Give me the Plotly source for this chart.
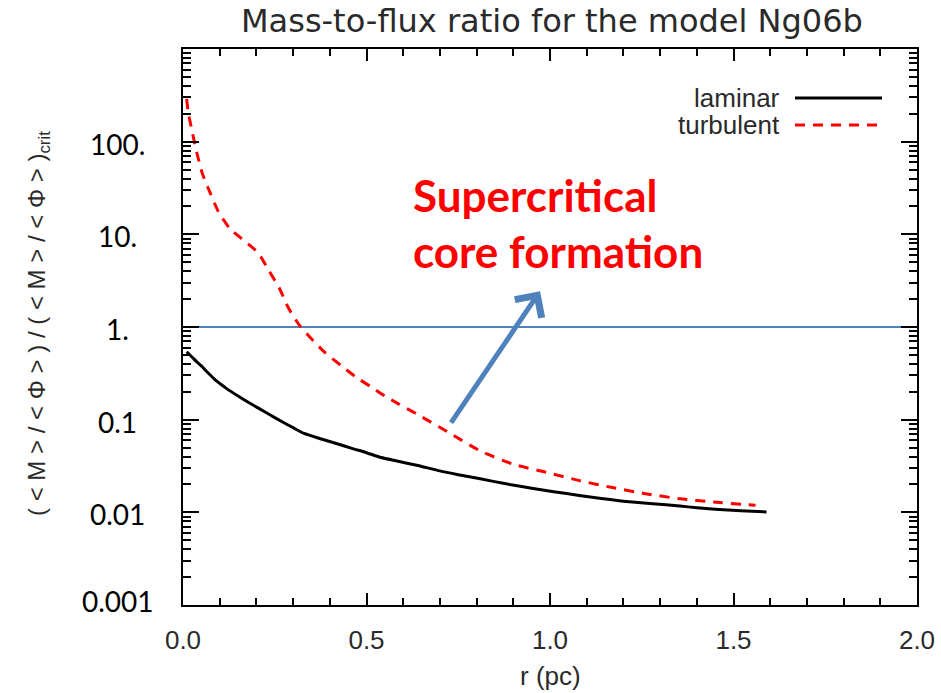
import math
import plotly.graph_objects as go

# Radius (pc) and normalised mass-to-flux ratio for the two runs of model Ng06b
r_laminar = [0.01, 0.03, 0.05, 0.07, 0.092, 0.12, 0.15, 0.18, 0.21, 0.24,
             0.27, 0.30, 0.33, 0.37, 0.42, 0.46, 0.50, 0.54, 0.58, 0.64,
             0.70, 0.75, 0.81, 0.88, 0.95, 1.01, 1.08, 1.14, 1.20, 1.28,
             1.354, 1.40, 1.45, 1.52, 1.59]
mu_laminar = [0.54, 0.45, 0.38, 0.315, 0.26, 0.215, 0.18, 0.152, 0.13, 0.111,
              0.095, 0.082, 0.071, 0.063, 0.055, 0.049, 0.044, 0.039, 0.036, 0.032,
              0.028, 0.0255, 0.023, 0.0203, 0.0182, 0.0167, 0.0152, 0.0141, 0.0132, 0.0124,
              0.0117, 0.0112, 0.0108, 0.0104, 0.0101]

r_turbulent = [0.01, 0.014, 0.024, 0.037, 0.053, 0.074, 0.096, 0.128, 0.169,
               0.205, 0.235, 0.262, 0.287, 0.319, 0.355, 0.387, 0.432, 0.473,
               0.514, 0.55, 0.587, 0.637, 0.723, 0.81, 0.90, 0.99, 1.08,
               1.17, 1.26, 1.354, 1.445, 1.56]
mu_turbulent = [290, 210, 134, 78, 45, 28, 17.7, 11.5, 8.4,
                6.3, 4.0, 2.65, 1.61, 1.02, 0.71, 0.53, 0.38, 0.285,
                0.224, 0.18, 0.148, 0.115, 0.073, 0.046, 0.033, 0.027, 0.022,
                0.0185, 0.0159, 0.014, 0.0129, 0.0119]

# Critical level and axis labelling
critical_r = [0.0, 2.0]
critical_mu = [1.0, 1.0]
y_tick_values = [0.001, 0.01, 0.1, 1, 10, 100]
y_tick_labels = ["0.001", "0.01", "0.1", "1.", "10.", "100."]
x_tick_values = [0.0, 0.5, 1.0, 1.5, 2.0]
x_tick_labels = ["0.0", "0.5", "1.0", "1.5", "2.0"]

THIN = "Liberation Sans, Arial, sans-serif"
INK = "#2a2a2a"
BLUE = "#4F81BD"
RED = "#ff0000"

fig = go.Figure()
fig.add_trace(go.Scatter(x=critical_r, y=critical_mu, mode="lines",
                         line=dict(color=BLUE, width=2), showlegend=False,
                         hoverinfo="skip"))
fig.add_trace(go.Scatter(x=r_laminar, y=mu_laminar, mode="lines", name="laminar",
                         line=dict(color="black", width=3, shape="spline", smoothing=0.6),
                         showlegend=False))
fig.add_trace(go.Scatter(x=r_turbulent, y=mu_turbulent, mode="lines", name="turbulent",
                         line=dict(color=RED, width=3, dash="10px,8px",
                                   shape="spline", smoothing=0.6),
                         showlegend=False))

axis_common = dict(showline=True, linecolor="black", linewidth=2, mirror="ticks",
                   ticks="inside", tickcolor="black", tickwidth=2,
                   showgrid=False, zeroline=False, automargin=False)

fig.update_xaxes(range=[0, 2.0], tickvals=x_tick_values, ticktext=x_tick_labels,
                 ticklen=12, ticklabelstandoff=11,
                 tickfont=dict(family=THIN, size=26, color=INK),
                 minor=dict(dtick=0.1, ticks="inside", ticklen=7,
                            tickcolor="black", tickwidth=2, showgrid=False),
                 **axis_common)
fig.update_yaxes(type="log", range=[-3, 3], dtick=1, ticklen=16,
                 showticklabels=False,
                 minor=dict(dtick="D1", ticks="inside", ticklen=8,
                            tickcolor="black", tickwidth=2, showgrid=False),
                 **axis_common)

# y tick labels, centred to the left of the axis
for v, lab in zip(y_tick_values, y_tick_labels):
    fig.add_annotation(x=-0.0886, xref="paper", y=math.log10(v), yref="y",
                       text=lab, showarrow=False, xanchor="center", yanchor="middle",
                       yshift=4 if v == 0.001 else -2,
                       font=dict(family="Lato, sans-serif", size=28, color="black"))

# title
fig.add_annotation(x=0.5, y=1.0, xref="paper", yref="paper", yshift=28, xshift=2,
                   text="Mass-to-flux ratio for the model Ng06b", showarrow=False,
                   xanchor="center", yanchor="middle",
                   font=dict(family="DejaVu Sans, sans-serif", size=32, color=INK))
# x axis title
fig.add_annotation(x=0.5, y=0, xref="paper", yref="paper", yshift=-71,
                   text="r (pc)", showarrow=False, xanchor="center", yanchor="middle",
                   font=dict(family=THIN, size=26, color=INK))
# y axis title
fig.add_annotation(x=0, y=0.5, xref="paper", yref="paper", xshift=-145, yshift=3,
                   text="( < M > / < Φ > ) / ( < M > / < Φ > )<sub>crit</sub>",
                   showarrow=False, textangle=-90, xanchor="center", yanchor="middle",
                   font=dict(family=THIN, size=24, color=INK))

# legend, drawn as text followed by a line sample
legend_rows = [("laminar", 98, dict(color="black", width=3)),
               ("turbulent", 125, dict(color=RED, width=3, dash="10px,8px"))]
for label, py, style in legend_rows:
    yp = (605 - py) / 556
    fig.add_annotation(x=(782 - 183) / 734, y=yp, xref="paper", yref="paper",
                       text=label, showarrow=False, xanchor="right", yanchor="middle",
                       font=dict(family=THIN, size=26, color=INK))
    fig.add_shape(type="line", xref="paper", yref="paper",
                  x0=(795 - 183) / 734, x1=(882 - 183) / 734, y0=yp, y1=yp,
                  line=style)

# callout text and arrow
fig.add_annotation(x=(411 - 183) / 734, y=(605 - 195) / 556, xref="paper", yref="paper",
                   text="<b>Supercritical</b>", showarrow=False, xanchor="left",
                   yanchor="middle", font=dict(family="Lato, sans-serif", size=44,
                                               color=RED))
fig.add_annotation(x=(411 - 183) / 734, y=(605 - 251) / 556, xref="paper", yref="paper",
                   text="<b>core formation</b>", showarrow=False, xanchor="left",
                   yanchor="middle", font=dict(family="Lato, sans-serif", size=44,
                                               color=RED))
fig.add_annotation(x=0.973, y=0.387, xref="x", yref="y", ax=-90, ay=133,
                   text="", showarrow=True, arrowhead=4, arrowsize=1.25,
                   arrowwidth=5, arrowcolor=BLUE, standoff=0)

fig.update_layout(width=941, height=693,
                  margin=dict(l=183, r=24, t=49, b=88, autoexpand=False),
                  paper_bgcolor="white", plot_bgcolor="white",
                  showlegend=False)

fig.write_html("out.html")
